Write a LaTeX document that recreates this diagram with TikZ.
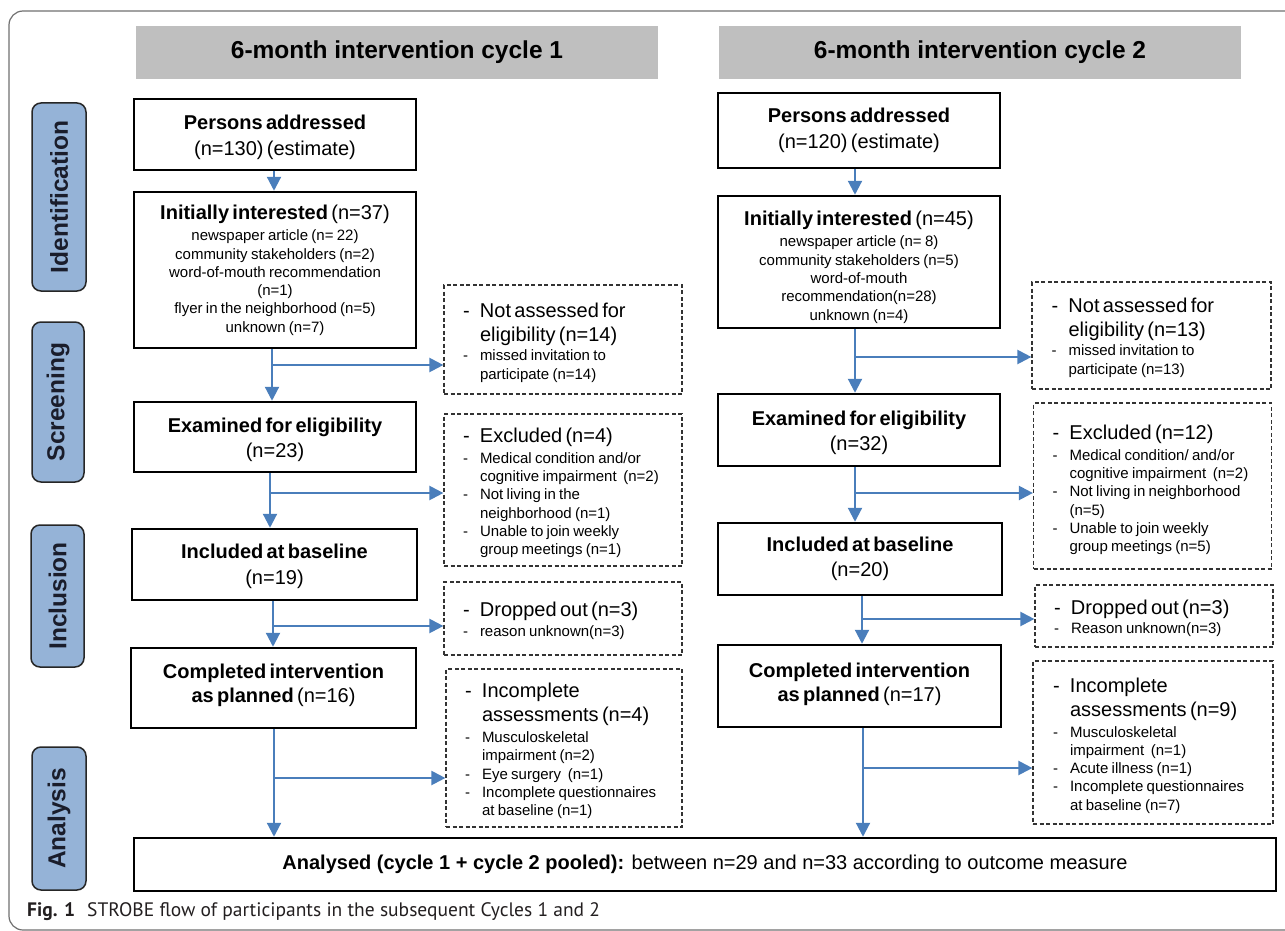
\documentclass[tikz,border=0pt]{standalone}
\usepackage{fontspec}
\setmainfont{Liberation Sans}
\newfontfamily\capfont{PT Sans}
\usetikzlibrary{arrows.meta,calc}
\definecolor{arrblue}{HTML}{4A7EBB}
\definecolor{hdrgray}{HTML}{BFBFBF}
\definecolor{lblblue}{HTML}{95B3D7}
\definecolor{framegray}{HTML}{707070}
\definecolor{dashgray}{HTML}{333333}
\definecolor{lbltext}{HTML}{1A1D2B}
\definecolor{captext}{HTML}{231F20}
\newcommand\fbig{\fontsize{20}{25.5}\selectfont}
\newcommand\fbg{\fontsize{20}{24}\selectfont}
\newcommand\fsml{\fontsize{15}{18.3}\selectfont}
\newcommand\dl{\noindent\makebox[17pt][l]{-}}
\newcommand\cl{\noindent\hspace*{17pt}}
% top strut (pushes text down) and bottom strut (pushes text up)
\newcommand\ts[1]{\rule{0pt}{#1}}
\newcommand\bs[1]{\rule[-#1]{0pt}{1pt}}
\begin{document}
\begin{tikzpicture}[x=1pt,y=-1pt,
  hdr/.style={fill=hdrgray, minimum width=522pt, minimum height=53pt, inner sep=0pt,
    font=\fontsize{24.5}{28}\selectfont\bfseries},
  lbl/.style={draw=black!85, fill=lblblue, line width=1.5pt, rounded corners=9pt, rotate=90,
    inner sep=0pt, font=\fontsize{24.5}{28}\selectfont\bfseries, text=lbltext},
  sbox/.style={draw=black, line width=2.5pt, inner sep=0pt},
  dbox/.style={draw=dashgray, dash pattern=on 4pt off 2.5pt, line width=1.2pt,
    inner xsep=19pt, inner ysep=0pt, text width=200pt, minimum width=238pt},
  arr/.style={draw=arrblue, line width=2.2pt, -{Triangle[length=14pt,width=14pt]}}
]
\useasboundingbox (0,0) rectangle (1285,931);
\draw[framegray, line width=1.2pt, rounded corners=14pt] (9,11) rectangle (1330,930);

% headers
\node[hdr] (H1) at (397,52.5) {6-month intervention cycle 1};
\node[hdr] (H2) at (980,52.5) {6-month intervention cycle 2};

% phase labels
\node[lbl, minimum width=188pt, minimum height=54pt] (LID) at (59,197) {Identification};
\node[lbl, minimum width=160pt, minimum height=52pt] (LSC) at (58,402) {Screening};
\node[lbl, minimum width=142pt, minimum height=53pt] (LIN) at (57.5,596) {Inclusion};
\node[lbl, minimum width=143pt, minimum height=54pt] (LAN) at (59,818.5) {Analysis};

% cycle 1 main boxes
\node[sbox, minimum width=282pt, minimum height=71pt, text width=270pt] (P1) at (275,134.5)
  {\centering\fbig\ts{20.6pt}\textbf{Persons addressed}\par (n=130) (estimate)\par};
\node[sbox, minimum width=282pt, minimum height=156pt, text width=270pt] (I1) at (275,270)
  {\centering{\fbig\textbf{Initially interested} (n=37)\par}\vspace{3.4pt}%
   {\fsml newspaper article (n= 22)\par community stakeholders (n=2)\par
    word-of-mouth recommendation\par (n=1)\par flyer in the neighborhood (n=5)\par unknown (n=7)\par}};
\node[sbox, minimum width=282pt, minimum height=70pt, text width=270pt] (E1) at (275,437)
  {\centering\fbig\ts{20.6pt}\textbf{Examined for eligibility}\par (n=23)\par};
\node[sbox, minimum width=285pt, minimum height=71pt, text width=270pt] (N1) at (274.5,564.5)
  {\centering\fbig\ts{18.6pt}\textbf{Included at baseline}\par (n=19)\par};
\node[sbox, minimum width=285pt, minimum height=80pt, text width=270pt] (C1) at (273.5,688)
  {\centering\fbg\textbf{Completed intervention}\par \textbf{as planned} (n=16)\bs{10.2pt}\par};

% cycle 2 main boxes
\node[sbox, minimum width=282pt, minimum height=75pt, text width=270pt] (P2) at (859,130.5)
  {\centering\fbig\textbf{Persons addressed}\par (n=120) (estimate)\par};
\node[sbox, minimum width=282pt, minimum height=132pt, text width=270pt] (I2) at (859,262)
  {\centering{\fbig\ts{24.6pt}\textbf{Initially interested} (n=45)\par}\vspace{3.4pt}%
   {\fsml newspaper article (n= 8)\par community stakeholders (n=5)\par
    word-of-mouth\par recommendation(n=28)\par unknown (n=4)\par}};
\node[sbox, minimum width=282pt, minimum height=72pt, text width=270pt] (E2) at (859,430)
  {\centering\fbig\ts{20.6pt}\textbf{Examined for eligibility}\par (n=32)\par};
\node[sbox, minimum width=284pt, minimum height=72pt, text width=270pt] (N2) at (860,559)
  {\centering\fbig\textbf{Included at baseline}\par (n=20)\par};
\node[sbox, minimum width=283pt, minimum height=82pt, text width=270pt] (C2) at (859.5,686)
  {\centering\fbg\textbf{Completed intervention}\par \textbf{as planned} (n=17)\bs{8.2pt}\par};

% pooled box
\node[sbox, minimum width=1142pt, minimum height=53pt] (AN) at (705,864.5)
  {\fbig\textbf{Analysed (cycle 1 + cycle 2 pooled):} between n=29 and n=33 according to outcome measure};

% cycle 1 side boxes
\node[dbox, minimum height=109pt] (NA1) at (563,339.5)
  {{\fbg\dl\ts{20.5pt}Not assessed for\par\cl eligibility (n=14)\par}\vspace{1.5pt}%
   {\fsml\dl missed invitation to\par\cl participate (n=14)\par}};
\node[dbox, minimum height=152pt] (EX1) at (563,490)
  {{\fbg\dl\ts{20.5pt}Excluded (n=4)\par}\vspace{2.5pt}%
   {\fsml\dl Medical condition and/or\par\cl cognitive impairment\ \ (n=2)\par
    \dl Not living in the\par\cl neighborhood (n=1)\par
    \dl Unable to join weekly\par\cl group meetings (n=1)\par}};
\node[dbox, minimum height=73pt] (DO1) at (563,618.5)
  {{\fbg\dl\ts{18.5pt}Dropped out (n=3)\par}\vspace{1.5pt}%
   {\fsml\dl reason unknown(n=3)\par}};
\node[dbox, minimum height=158pt, minimum width=236pt, text width=198pt] (IC1) at (564,748)
  {{\fbg\dl\ts{20.5pt}Incomplete\par\cl assessments (n=4)\par}\vspace{2.5pt}%
   {\fsml\dl Musculoskeletal\par\cl impairment (n=2)\par
    \dl Eye surgery\ \ (n=1)\par
    \dl Incomplete questionnaires\par\cl at baseline (n=1)\par}};

% cycle 2 side boxes
\node[dbox, minimum height=107pt, minimum width=239pt] (NA2) at (1151.5,335.5)
  {{\fbg\dl\ts{18.5pt}Not assessed for\par\cl eligibility (n=13)\par}\vspace{1.5pt}%
   {\fsml\dl missed invitation to\par\cl participate (n=13)\par}};
\node[dbox, minimum height=166pt, minimum width=237pt] (EX2) at (1152.5,486)
  {{\fbg\dl\ts{22.5pt}Excluded (n=12)\par}\vspace{2.5pt}%
   {\fsml\dl Medical condition/ and/or\par\cl cognitive impairment\ \ (n=2)\par
    \dl Not living in neighborhood\par\cl (n=5)\par
    \dl Unable to join weekly\par\cl group meetings (n=5)\par}};
\node[dbox, minimum height=62pt] (DO2) at (1154,616)
  {{\fbg\dl\ts{18.5pt}Dropped out (n=3)\par}\vspace{1pt}%
   {\fsml\dl Reason unknown(n=3)\par}};
\node[dbox, minimum height=163pt, minimum width=240pt] (IC2) at (1153,742.5)
  {{\fbg\dl\ts{20.5pt}Incomplete\par\cl assessments (n=9)\par}\vspace{2.5pt}%
   {\fsml\dl Musculoskeletal\par\cl impairment\ \ (n=1)\par
    \dl Acute illness (n=1)\par
    \dl Incomplete questionnaires\par\cl at baseline (n=7)\par}};

% vertical lanes
\coordinate (xa) at (274,0);
\coordinate (xb) at (272,0);
\coordinate (xc) at (270,0);
\coordinate (xd) at (273,0);
\coordinate (xe) at (274,0);
\coordinate (ya) at (855,0);
\coordinate (yd) at (862,0);
\coordinate (ye) at (863,0);

% cycle 1 connectors
\draw[arr] (P1.south -| xa) -- (I1.north -| xa);
\draw[arr] (I1.south -| xb) -- (E1.north -| xb);
\draw[arr] (E1.south -| xc) -- (N1.north -| xc);
\draw[arr] (N1.south -| xd) -- (C1.north -| xd);
\draw[arr] (C1.south -| xe) -- (AN.north -| xe);
\coordinate (b1) at (272,365);
\coordinate (b2) at (270,493);
\coordinate (b3) at (273,626);
\coordinate (b4) at (274,778);
\draw[arr] (b1) -- (b1 -| NA1.west);
\draw[arr] (b2) -- (b2 -| EX1.west);
\draw[arr] (b3) -- (b3 -| DO1.west);
\draw[arr] (b4) -- (b4 -| IC1.west);

% cycle 2 connectors
\draw[arr] (P2.south -| ya) -- (I2.north -| ya);
\draw[arr] (I2.south -| ya) -- (E2.north -| ya);
\draw[arr] (E2.south -| ya) -- (N2.north -| ya);
\draw[arr] (N2.south -| yd) -- (C2.north -| yd);
\draw[arr] (C2.south -| ye) -- (AN.north -| ye);
\coordinate (c1) at (855,357);
\coordinate (c2) at (855,493);
\coordinate (c3) at (862,619);
\coordinate (c4) at (863,768);
\draw[arr] (c1) -- (c1 -| NA2.west);
\draw[arr] (c2) -- (c2 -| EX2.west);
\draw[arr] (c3) -- (c3 -| DO2.west);
\draw[arr] (c4) -- (c4 -| IC2.west);

% caption
\node[anchor=west, inner sep=0pt, text=captext,
  font=\capfont\fontsize{19.5}{22}\selectfont] (CAP) at (27,912)
  {\textbf{Fig. 1}\hspace{12pt}STROBE flow of participants in the subsequent Cycles 1 and 2};
\end{tikzpicture}
\end{document}
